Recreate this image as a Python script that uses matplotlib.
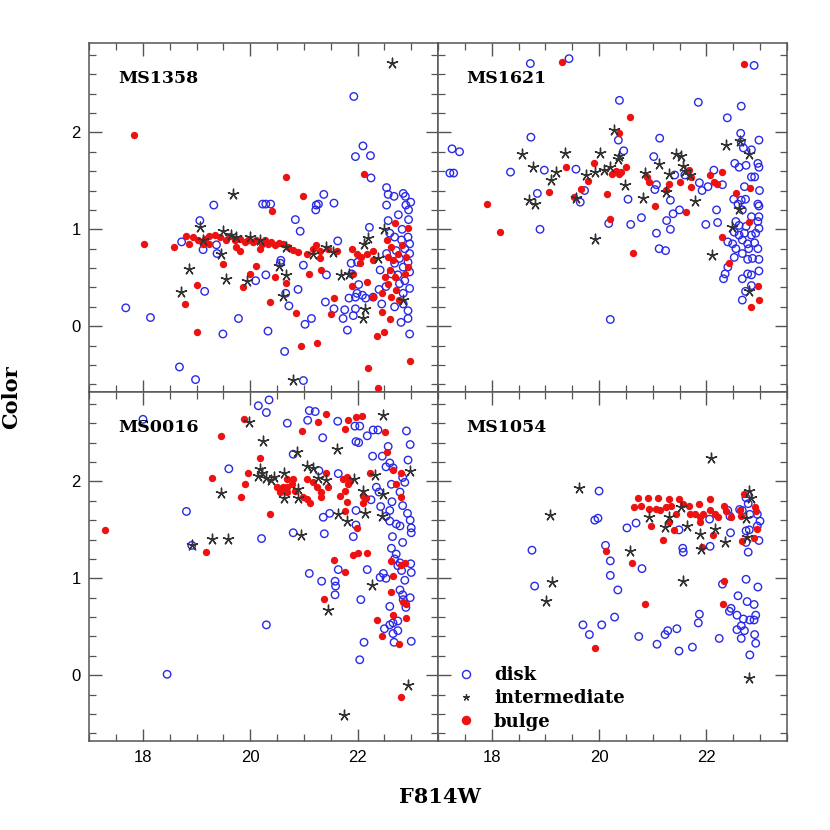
import matplotlib
matplotlib.use("Agg")
import matplotlib.pyplot as plt
from matplotlib.lines import Line2D
from matplotlib.ticker import MultipleLocator

# ---- data: (F814W magnitude, color) ----
ms1358_disk_mag = [21.93, 22.10, 21.96, 22.24, 22.25, 22.54, 22.57, 22.68, 22.54, 22.85, 22.89, 22.99,
                   22.90, 22.76, 22.95, 22.95, 22.57, 22.83, 21.37, 21.23, 21.27, 21.22, 21.56, 20.23,
                   20.29, 20.38, 19.32, 20.84, 20.93, 19.06, 22.22, 18.72, 19.12, 19.37, 19.38, 21.63,
                   20.57, 20.56, 20.99, 20.10, 20.29, 21.42, 19.15, 20.89, 20.66, 20.72, 21.40, 21.56,
                   21.76, 21.84, 21.96, 21.99, 22.09, 22.02, 22.15, 22.29, 22.40, 22.53, 22.45, 22.69,
                   22.85, 22.94, 22.94, 22.81, 22.97, 21.96, 21.92, 21.73, 21.14, 21.02, 21.81, 19.78,
                   20.33, 19.49, 18.14, 17.68, 20.64, 18.68, 18.98, 20.99, 22.60, 22.69, 22.82, 22.94,
                   22.97, 22.88, 22.72, 22.97, 22.78, 22.94, 22.69, 22.85, 22.97, 22.75, 22.88, 22.97,
                   22.63, 22.54, 22.42, 22.00, 21.88, 21.89, 22.78, 22.85]
ms1358_disk_col = [2.37, 1.86, 1.75, 1.76, 1.53, 1.43, 1.36, 1.34, 1.25, 1.37, 1.34, 1.28,
                   1.25, 1.15, 1.20, 1.10, 1.09, 1.00, 1.36, 1.25, 1.26, 1.20, 1.27, 1.26,
                   1.26, 1.26, 1.25, 1.10, 0.98, 1.09, 1.02, 0.87, 0.79, 0.84, 0.75, 0.88,
                   0.68, 0.65, 0.63, 0.47, 0.53, 0.53, 0.36, 0.38, 0.34, 0.21, 0.25, 0.18,
                   0.17, 0.29, 0.30, 0.34, 0.32, 0.43, 0.29, 0.30, 0.38, 0.41, 0.23, 0.20,
                   0.23, 0.16, 0.08, 0.04, -0.08, 0.18, 0.11, 0.08, 0.08, 0.02, -0.04, 0.08,
                   -0.05, -0.08, 0.09, 0.19, -0.26, -0.42, -0.55, -0.56, 0.96, 0.92, 0.89, 0.92,
                   0.85, 0.80, 0.78, 0.75, 0.70, 0.66, 0.65, 0.61, 0.56, 0.53, 0.47, 0.39,
                   0.54, 0.75, 0.58, 0.66, 0.65, 0.54, 0.44, 0.34]
ms1358_int_mag = [22.65, 19.68, 19.07, 19.11, 19.49, 19.65, 19.74, 19.99, 20.18, 19.46, 18.86, 19.54,
                  19.93, 18.70, 20.54, 20.66, 20.61, 20.80, 21.17, 21.42, 21.54, 21.70, 21.84, 22.12,
                  22.20, 22.49, 22.38, 22.14, 22.10, 22.84, 20.67]
ms1358_int_col = [2.72, 1.36, 1.02, 0.89, 0.98, 0.94, 0.92, 0.92, 0.89, 0.75, 0.59, 0.49,
                  0.47, 0.35, 0.62, 0.53, 0.31, -0.55, 0.75, 0.82, 0.77, 0.53, 0.54, 0.85,
                  0.91, 1.00, 0.70, 0.18, 0.09, 0.27, 0.82]
ms1358_bul_mag = [17.83, 18.01, 18.57, 18.80, 18.86, 18.93, 19.03, 19.15, 19.24, 19.34, 19.43, 19.55,
                  19.62, 19.71, 19.80, 19.90, 19.96, 20.05, 20.11, 20.21, 20.27, 20.33, 20.39, 20.46,
                  20.54, 20.61, 20.71, 20.80, 20.89, 21.05, 21.17, 21.23, 21.30, 21.45, 21.61, 21.89,
                  21.98, 22.07, 22.17, 22.29, 22.28, 19.12, 19.24, 19.74, 20.18, 19.80, 19.50, 19.00,
                  18.78, 19.01, 20.00, 19.87, 20.11, 20.41, 20.67, 20.99, 20.66, 20.46, 20.36, 20.85,
                  20.94, 21.25, 21.09, 21.31, 21.30, 21.56, 21.51, 21.89, 21.92, 22.12, 22.20, 22.38,
                  22.37, 22.49, 22.97, 22.69, 22.94, 22.60, 22.45, 22.17, 22.29, 22.54, 22.63, 22.57,
                  22.66, 22.60, 22.69, 22.57, 22.72, 22.63, 22.78, 22.88, 22.91, 22.82, 22.94, 22.51,
                  22.45, 22.75, 22.04]
ms1358_bul_col = [1.97, 0.85, 0.82, 0.93, 0.85, 0.92, 0.89, 0.90, 0.93, 0.94, 0.92, 0.89,
                  0.93, 0.89, 0.90, 0.87, 0.89, 0.87, 0.89, 0.85, 0.89, 0.85, 0.87, 0.84,
                  0.86, 0.85, 0.82, 0.79, 0.77, 0.75, 0.80, 0.84, 0.78, 0.80, 0.78, 0.80,
                  0.75, 0.71, 0.75, 0.78, 0.68, 0.85, 0.85, 0.82, 0.80, 0.78, 0.64, 0.43,
                  0.23, -0.06, 0.54, 0.41, 0.62, 1.19, 1.54, 1.34, 0.45, 0.51, 0.25, 0.14,
                  -0.20, -0.17, 0.54, 0.58, 0.70, 0.29, 0.13, 0.42, 0.54, 1.57, -0.43, -0.64,
                  -0.10, -0.06, -0.36, 1.07, 1.01, 0.07, 0.15, 0.46, 0.30, 0.89, 0.82, 0.71,
                  0.68, 0.58, 0.51, 0.44, 0.37, 0.30, 0.27, 0.54, 0.71, 0.84, 0.61, 0.51,
                  0.34, 0.75, 0.65]

ms1621_disk_mag = [17.26, 17.40, 17.22, 17.29, 18.72, 19.44, 18.73, 18.35, 18.85, 18.90, 18.98, 19.57,
                   19.65, 19.73, 20.38, 20.36, 20.46, 20.54, 20.18, 20.59, 20.79, 20.21, 21.13, 21.02,
                   21.07, 21.04, 21.33, 21.26, 21.33, 21.07, 21.12, 21.24, 21.38, 21.50, 21.41, 21.60,
                   21.85, 21.87, 21.92, 21.99, 22.19, 22.21, 22.03, 22.14, 22.30, 22.39, 22.65, 22.89,
                   22.64, 22.65, 22.69, 22.84, 22.98, 22.53, 22.61, 22.74, 22.96, 22.98, 22.84, 22.90,
                   22.71, 22.99, 22.51, 22.59, 22.65, 22.73, 22.96, 22.98, 22.67, 22.84, 22.98, 22.55,
                   22.61, 22.74, 22.96, 22.98, 22.52, 22.61, 22.71, 22.84, 22.92, 22.40, 22.49, 22.67,
                   22.77, 22.90, 22.96, 22.55, 22.67, 22.79, 22.52, 22.77, 22.86, 22.98, 22.40, 22.35,
                   22.32, 22.77, 22.84, 22.67, 22.98, 22.73, 22.67, 22.84]
ms1621_disk_col = [1.83, 1.80, 1.58, 1.58, 2.71, 2.76, 1.95, 1.59, 1.37, 1.00, 1.61, 1.62,
                   1.28, 1.40, 2.33, 1.92, 1.81, 1.31, 1.06, 1.05, 1.12, 0.07, 1.94, 1.75,
                   1.46, 1.41, 1.30, 1.09, 1.00, 0.96, 0.80, 0.78, 1.16, 1.20, 1.56, 1.56,
                   2.31, 1.48, 1.40, 1.05, 1.20, 1.07, 1.44, 1.61, 1.46, 2.15, 2.27, 2.69,
                   1.99, 1.90, 1.84, 1.82, 1.92, 1.68, 1.64, 1.66, 1.68, 1.64, 1.54, 1.54,
                   1.44, 1.40, 1.31, 1.26, 1.30, 1.31, 1.26, 1.24, 1.20, 1.13, 1.13, 1.08,
                   1.04, 1.03, 1.08, 1.01, 0.97, 0.94, 0.96, 0.94, 0.96, 0.87, 0.85, 0.89,
                   0.85, 0.86, 0.80, 0.80, 0.75, 0.80, 0.71, 0.69, 0.70, 0.69, 0.61, 0.54,
                   0.49, 0.54, 0.53, 0.49, 0.57, 0.36, 0.27, 0.42]
ms1621_int_mag = [18.57, 18.76, 18.70, 18.80, 19.11, 19.20, 19.37, 19.75, 19.93, 20.02, 19.93, 20.10,
                  20.20, 20.27, 20.35, 20.38, 20.48, 19.57, 20.85, 20.82, 21.11, 21.44, 21.53, 21.56,
                  21.60, 21.25, 21.31, 21.69, 21.78, 22.10, 22.37, 22.63, 22.79, 22.61, 22.47, 22.79]
ms1621_int_col = [1.78, 1.64, 1.30, 1.26, 1.51, 1.59, 1.79, 1.56, 1.59, 1.79, 0.90, 1.61,
                  1.64, 2.02, 1.72, 1.76, 1.46, 1.32, 1.58, 1.32, 1.67, 1.78, 1.76, 1.65,
                  1.60, 1.38, 1.57, 1.56, 1.29, 0.74, 1.87, 1.91, 1.78, 1.21, 1.02, 0.36]
ms1621_bul_mag = [19.31, 22.71, 17.91, 18.16, 19.06, 19.39, 19.54, 19.67, 19.79, 19.90, 20.15, 20.21,
                  20.38, 20.57, 20.25, 20.32, 20.37, 20.41, 20.50, 20.64, 20.89, 20.94, 21.04, 21.31,
                  21.25, 21.51, 21.62, 21.68, 21.71, 21.72, 22.07, 22.15, 22.20, 22.30, 22.55, 22.81,
                  22.30, 22.42, 22.79, 22.96, 22.99, 22.84]
ms1621_bul_col = [2.73, 2.71, 1.26, 0.97, 1.38, 1.64, 1.33, 1.42, 1.50, 1.68, 1.36, 1.11,
                  1.99, 2.16, 1.57, 1.60, 1.57, 1.59, 1.64, 0.76, 1.54, 1.49, 1.24, 1.47,
                  1.41, 1.49, 1.18, 1.61, 1.54, 1.44, 1.56, 1.49, 1.47, 1.59, 1.37, 1.43,
                  0.92, 0.65, 1.08, 0.42, 0.27, 0.20]

ms0016_disk_mag = [20.35, 20.30, 20.15, 18.00, 20.69, 21.10, 21.21, 21.07, 21.35, 21.63, 21.95, 22.04,
                   22.18, 21.97, 22.02, 22.29, 22.38, 22.91, 22.98, 22.57, 22.28, 22.46, 22.94, 22.60,
                   22.66, 22.53, 19.60, 20.80, 21.28, 21.64, 22.84, 22.88, 22.63, 22.35, 22.40, 22.79,
                   22.25, 22.64, 22.84, 22.43, 22.60, 22.53, 22.93, 22.60, 22.98, 22.72, 22.79, 23.00,
                   23.00, 21.97, 21.48, 21.36, 21.97, 21.92, 21.38, 20.80, 20.21, 18.81, 18.91, 22.65,
                   22.63, 22.84, 22.72, 22.69, 22.79, 22.75, 22.82, 22.99, 23.00, 22.42, 22.48, 22.53,
                   22.88, 22.79, 22.84, 22.85, 22.98, 22.90, 22.60, 22.75, 22.66, 22.60, 22.50, 22.75,
                   22.66, 22.68, 23.00, 22.12, 22.04, 22.06, 21.64, 21.10, 21.33, 21.58, 21.59, 21.58,
                   22.18, 18.45, 20.30]
ms0016_disk_col = [2.84, 2.71, 2.78, 2.64, 2.60, 2.73, 2.72, 2.63, 2.45, 2.62, 2.57, 2.57,
                   2.47, 2.41, 2.40, 2.53, 2.53, 2.52, 2.38, 2.36, 2.26, 2.26, 2.22, 2.19,
                   2.14, 2.15, 2.13, 2.28, 2.11, 2.08, 2.04, 1.99, 1.97, 1.94, 1.89, 1.89,
                   1.81, 1.79, 1.75, 1.74, 1.70, 1.64, 1.67, 1.59, 1.60, 1.56, 1.54, 1.52,
                   1.47, 1.70, 1.67, 1.63, 1.55, 1.43, 1.46, 1.47, 1.41, 1.69, 1.34, 1.43,
                   1.31, 1.37, 1.25, 1.20, 1.16, 1.13, 1.08, 1.15, 1.06, 1.01, 1.05, 1.00,
                   0.98, 0.88, 0.83, 0.78, 0.80, 0.70, 0.71, 0.56, 0.54, 0.52, 0.48, 0.46,
                   0.43, 0.34, 0.35, 0.34, 0.16, 0.78, 1.09, 1.05, 0.97, 0.97, 0.92, 0.83,
                   1.09, 0.01, 0.52]
ms0016_int_mag = [22.47, 19.98, 20.23, 20.87, 21.61, 20.18, 20.21, 20.15, 20.30, 20.39, 20.44, 20.62,
                  21.06, 21.16, 21.26, 20.89, 20.62, 20.89, 19.46, 18.91, 19.29, 19.59, 20.95, 21.64,
                  21.81, 21.93, 22.10, 22.13, 22.33, 22.48, 22.46, 22.98, 22.27, 21.45, 21.74, 22.94,
                  21.42]
ms0016_int_col = [2.68, 2.61, 2.42, 2.30, 2.33, 2.13, 2.09, 2.06, 2.03, 2.01, 2.05, 2.09,
                  2.16, 2.14, 2.03, 1.92, 1.83, 1.83, 1.88, 1.34, 1.41, 1.41, 1.45, 1.66,
                  1.59, 2.02, 1.90, 1.67, 2.07, 1.87, 1.64, 2.11, 0.93, 0.67, -0.41, -0.10,
                  2.01]
ms0016_bul_mag = [17.30, 19.88, 19.45, 21.42, 20.97, 21.27, 21.76, 21.82, 21.97, 22.08, 22.51, 20.18,
                  19.96, 19.29, 19.91, 19.83, 20.36, 19.18, 20.49, 20.55, 20.61, 20.69, 20.77, 20.83,
                  20.55, 20.68, 20.99, 21.06, 21.11, 21.05, 21.17, 21.24, 21.31, 21.32, 21.42, 21.45,
                  21.73, 21.80, 21.83, 21.86, 21.76, 21.68, 21.80, 21.76, 22.10, 22.15, 22.11, 22.24,
                  22.54, 22.66, 22.80, 22.71, 22.80, 20.80, 20.68, 21.98, 21.56, 21.76, 21.92, 22.01,
                  22.18, 21.38, 22.63, 22.88, 22.66, 22.63, 22.85, 22.91, 22.66, 22.91, 22.37, 22.46,
                  22.78, 22.80, 22.80]
ms0016_bul_col = [1.50, 2.64, 2.47, 2.69, 2.52, 2.61, 2.54, 2.63, 2.66, 2.67, 2.51, 2.24,
                  2.09, 2.03, 1.97, 1.84, 1.66, 1.27, 1.94, 1.92, 1.94, 1.94, 1.97, 1.90,
                  1.89, 1.89, 1.84, 1.82, 1.78, 2.02, 1.99, 1.94, 1.89, 1.84, 2.09, 1.94,
                  2.02, 2.04, 1.97, 2.00, 1.90, 1.85, 1.79, 1.69, 1.85, 1.83, 1.78, 2.09,
                  2.30, 2.12, 2.09, 1.97, 1.84, 2.02, 2.02, 1.52, 1.19, 1.06, 1.24, 1.26,
                  1.26, 0.79, 1.18, 1.16, 1.02, 0.86, 0.76, 0.73, 0.62, 0.59, 0.57, 0.40,
                  0.32, -0.22, 1.14]

ms1054_disk_mag = [20.00, 19.92, 19.98, 18.75, 18.80, 20.12, 20.21, 20.21, 20.35, 20.80, 20.52, 20.69,
                   19.70, 19.82, 20.05, 20.29, 20.74, 21.08, 21.23, 21.28, 21.45, 21.49, 21.74, 21.85,
                   21.87, 22.24, 21.56, 21.57, 21.49, 22.07, 22.06, 22.30, 22.40, 22.44, 22.45, 22.62,
                   22.67, 22.74, 22.78, 22.81, 22.95, 23.00, 22.95, 22.80, 22.74, 22.98, 22.74, 22.78,
                   22.74, 22.96, 22.59, 22.76, 22.89, 22.46, 22.43, 22.57, 22.69, 22.81, 22.89, 22.92,
                   22.65, 22.57, 22.71, 22.90, 22.65, 22.92, 22.81]
ms1054_disk_col = [1.90, 1.60, 1.62, 1.29, 0.92, 1.34, 1.18, 1.03, 0.88, 1.10, 1.52, 1.57,
                   0.52, 0.42, 0.52, 0.60, 0.40, 0.32, 0.42, 0.46, 0.48, 0.25, 0.29, 0.54,
                   0.63, 0.38, 1.31, 1.27, 1.50, 1.33, 1.61, 0.94, 1.70, 1.64, 1.47, 1.71,
                   1.70, 1.83, 1.77, 1.66, 1.66, 1.59, 1.54, 1.50, 1.49, 1.39, 1.37, 1.27,
                   0.99, 0.91, 0.82, 0.76, 0.73, 0.69, 0.66, 0.62, 0.58, 0.57, 0.57, 0.62,
                   0.51, 0.47, 0.46, 0.42, 0.38, 0.33, 0.21]
ms1054_int_mag = [19.62, 19.09, 19.13, 19.01, 20.58, 22.09, 21.56, 22.79, 22.83, 22.79, 20.94, 21.23,
                  21.31, 21.52, 21.64, 21.89, 21.90, 22.17, 22.34, 22.73, 22.76]
ms1054_int_col = [1.93, 1.65, 0.96, 0.77, 1.28, 2.24, 0.97, 1.90, 1.83, -0.03, 1.63, 1.53,
                  1.63, 1.74, 1.54, 1.46, 1.30, 1.51, 1.37, 1.62, 1.43]
ms1054_bul_mag = [19.93, 20.13, 20.62, 20.86, 20.97, 21.19, 21.39, 21.92, 22.12, 22.32, 22.31, 22.67,
                  22.95, 22.88, 20.72, 20.79, 20.66, 20.91, 20.94, 21.10, 21.07, 21.14, 21.30, 21.25,
                  21.34, 21.49, 21.56, 21.67, 21.86, 21.69, 21.79, 21.88, 21.94, 22.07, 22.06, 22.17,
                  22.22, 22.32, 22.36, 22.45, 22.63, 22.65, 22.71, 22.90, 22.92, 21.31, 21.88, 21.43]
ms1054_bul_col = [0.28, 1.28, 1.16, 0.74, 1.54, 1.40, 1.50, 1.32, 1.45, 0.97, 0.74, 1.39,
                  1.51, 1.42, 1.83, 1.75, 1.74, 1.83, 1.71, 1.83, 1.71, 1.70, 1.82, 1.74,
                  1.75, 1.82, 1.77, 1.75, 1.77, 1.66, 1.66, 1.63, 1.66, 1.82, 1.70, 1.66,
                  1.63, 1.75, 1.69, 1.63, 1.70, 1.64, 1.87, 1.74, 1.69, 1.58, 1.58, 1.66]

cluster_names = ["MS1358", "MS1621", "MS0016", "MS1054"]
panels = [
    (ms1358_disk_mag, ms1358_disk_col, ms1358_int_mag, ms1358_int_col, ms1358_bul_mag, ms1358_bul_col),
    (ms1621_disk_mag, ms1621_disk_col, ms1621_int_mag, ms1621_int_col, ms1621_bul_mag, ms1621_bul_col),
    (ms0016_disk_mag, ms0016_disk_col, ms0016_int_mag, ms0016_int_col, ms0016_bul_mag, ms0016_bul_col),
    (ms1054_disk_mag, ms1054_disk_col, ms1054_int_mag, ms1054_int_col, ms1054_bul_mag, ms1054_bul_col),
]

disk_color = "#2a2ae6"
bulge_color = "#ee1111"
star_color = "#333333"
star_marker = (5, 2, 0)

fig, axes = plt.subplots(2, 2, figsize=(8.3, 8.3), dpi=100, sharex=True, sharey=True)
fig.subplots_adjust(left=0.1076, right=0.948, top=0.948, bottom=0.107, wspace=0, hspace=0)

for ax, name, (dx, dy, ix, iy, bx, by) in zip(axes.flat, cluster_names, panels):
    ax.scatter(dx, dy, s=29, facecolors="none", edgecolors=disk_color, linewidths=1.0, zorder=2)
    ax.scatter(bx, by, s=28, c=bulge_color, linewidths=0, zorder=3)
    ax.scatter(ix, iy, s=58, marker=star_marker, c=star_color, linewidths=1.0, zorder=4)
    ax.text(0.082, 0.90, name, transform=ax.transAxes, fontsize=12.5, fontweight="bold",
            family="DejaVu Serif", va="center", ha="left")

    ax.set_xlim(17.0, 23.5)
    ax.set_ylim(-0.68, 2.92)
    ax.xaxis.set_major_locator(MultipleLocator(2))
    ax.xaxis.set_minor_locator(MultipleLocator(0.5))
    ax.yaxis.set_major_locator(MultipleLocator(1))
    ax.yaxis.set_minor_locator(MultipleLocator(0.2))
    ax.tick_params(which="both", direction="in", top=True, right=True, color="#555555",
                   labelsize=12, pad=6)
    ax.tick_params(which="major", length=9, width=1.0)
    ax.tick_params(which="minor", length=5, width=0.9)
    for sp in ax.spines.values():
        sp.set_color("#555555")
        sp.set_linewidth(1.1)
    for lab in ax.get_xticklabels() + ax.get_yticklabels():
        lab.set_family("Liberation Sans")

legend_handles = [
    Line2D([], [], ls="none", marker="o", ms=5.8, mfc="none", mec=disk_color, mew=1.0),
    Line2D([], [], ls="none", marker=star_marker, ms=5, color=star_color, mew=0.9),
    Line2D([], [], ls="none", marker="o", ms=5.8, mfc=bulge_color, mec=bulge_color),
]
axes[1, 1].legend(legend_handles, ["disk", "intermediate", "bulge"], loc="lower left",
                  bbox_to_anchor=(0.054, 0.03), borderaxespad=0, borderpad=0, frameon=False,
                  handlelength=1.0, handletextpad=1.05, labelspacing=0.3,
                  prop={"family": "DejaVu Serif", "weight": "bold", "size": 13})

fig.text(0.014, 0.522, "Color", rotation=90, fontsize=15, fontweight="bold",
         family="DejaVu Serif", ha="center", va="center")
fig.text(0.53, 0.04, "F814W", fontsize=15, fontweight="bold",
         family="DejaVu Serif", ha="center", va="center")

fig.savefig("out.png", dpi=100)
